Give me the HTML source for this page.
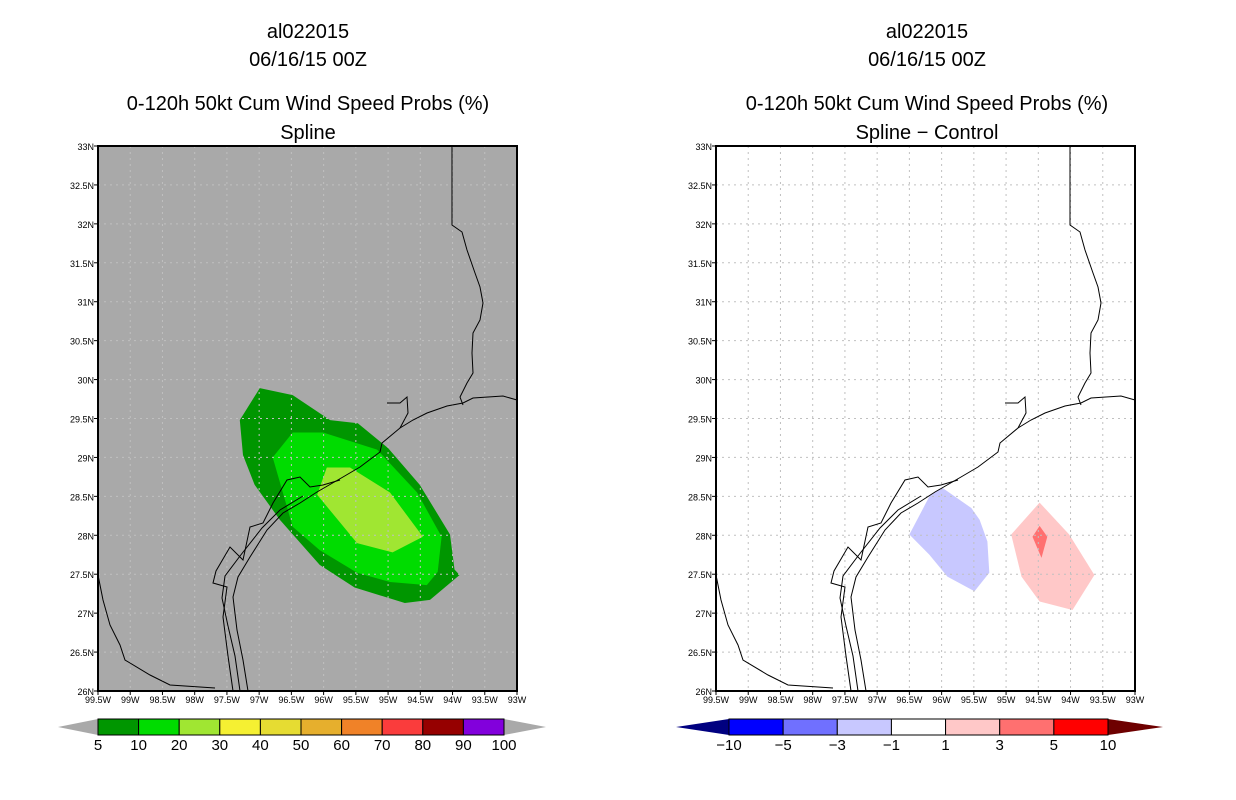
<!DOCTYPE html>
<html><head><meta charset="utf-8"><style>
html,body{margin:0;padding:0;background:#fff;}
svg{display:block;font-family:"Liberation Sans",sans-serif;}
</style></head><body>
<svg id="s" width="1236" height="800" viewBox="0 0 1236 800"></svg>
<script>
const latTicks=[33,32.5,32,31.5,31,30.5,30,29.5,29,28.5,28,27.5,27,26.5,26];
const latLabels=["33N","32.5N","32N","31.5N","31N","30.5N","30N","29.5N","29N","28.5N","28N","27.5N","27N","26.5N","26N"];
const lonTicks=[99.5,99,98.5,98,97.5,97,96.5,96,95.5,95,94.5,94,93.5,93];
const lonLabels=["99.5W","99W","98.5W","98W","97.5W","97W","96.5W","96W","95.5W","95W","94.5W","94W","93.5W","93W"];
// probability contours (lon W, lat N)
const prob5=[[96.99,29.89],[96.48,29.80],[95.90,29.48],[95.47,29.44],[95.00,29.12],[94.51,28.65],[94.04,28.01],[93.97,27.56],[93.89,27.49],[94.35,27.17],[94.74,27.13],[95.52,27.33],[96.06,27.62],[96.68,28.20],[97.07,28.65],[97.25,29.03],[97.30,29.48]];
const prob10=[[96.48,29.32],[96.01,29.32],[95.17,29.10],[94.55,28.55],[94.17,27.98],[94.23,27.53],[94.40,27.36],[94.97,27.40],[95.48,27.52],[96.06,27.81],[96.48,28.11],[96.79,29.00]];
const prob20=[[95.95,28.87],[95.59,28.87],[94.97,28.55],[94.46,27.98],[94.93,27.78],[95.48,27.90],[96.10,28.52]];
const diffNeg=[[95.99,28.61],[95.54,28.35],[95.41,28.20],[95.29,27.92],[95.26,27.52],[95.49,27.28],[95.91,27.47],[96.19,27.75],[96.50,28.01],[96.19,28.50]];
const diffPos1=[[94.48,28.42],[94.02,28.01],[93.63,27.49],[93.97,27.04],[94.48,27.15],[94.76,27.47],[94.92,28.01]];
const diffPos3=[[94.48,28.12],[94.36,27.98],[94.45,27.71],[94.59,27.98]];
const probLevels=["5","10","20","30","40","50","60","70","80","90","100"];
const probColors=["#009600","#00dc00","#a0e632","#f5f032","#e6dc32","#e6af2d","#f08228","#fa3c3c","#960000","#8200dc"];
const diffLevels=["-10","-5","-3","-1","1","3","5","10"];
const diffColors=["#0000ff","#7070ff","#c8c8ff","#ffffff","#ffc8c8","#ff7070","#ff0000"];
// coastline geometry in map-relative pixels (not data)
const coastMain=[[419,254],[405,250],[375,252],[365,257],[349,260],[329,267],[315,274],[302,282],[284,297],[282,306],[262,321],[245,331],[219,346],[202,357],[185,367],[169,384],[152,411],[140,431],[135,451],[139,484],[145,514],[150,545]];
const coastBarrier=[[142,545],[137,510],[130,480],[124,452],[127,430],[142,410],[164,382],[182,364],[205,350]];
const coastInner=[[135,545],[130,510],[125,471],[129,441],[115,437],[118,425],[132,401],[145,414],[152,381],[165,377],[175,357],[189,334],[202,331],[212,341],[225,339],[242,334]];
const bayTop=[[289,257],[302,257],[309,251],[310,267],[302,282]];
const mexCoast=[[0,429],[5,454],[12,479],[22,499],[27,514],[52,529],[72,539],[117,542]];
const sabine=[[354,0],[354,79],[364,86],[369,104],[377,127],[382,141],[385,157],[382,174],[375,187],[374,207],[375,227],[369,237],[362,251],[365,259]];

const NS="http://www.w3.org/2000/svg";
const svg=document.getElementById('s');
function mk(t,a,p){const e=document.createElementNS(NS,t);for(const k in a)e.setAttribute(k,a[k]);(p||svg).appendChild(e);return e;}
function panel(x0){
  const x1=x0+419,y0=146,y1=691;
  const X=l=>x0+(99.5-l)/6.5*(x1-x0);
  const Y=v=>y0+(33-v)/7*(y1-y0);
  return {x0,x1,y0,y1,X,Y};
}
function pts(arr,P){return arr.map(p=>P.X(p[0]).toFixed(1)+","+P.Y(p[1]).toFixed(1)).join(" ");}
function ppts(arr,P){return arr.map(p=>(P.x0+p[0])+","+(P.y0+p[1])).join(" ");}
function txt(x,y,s,size,anchor,name){const t=mk('text',{x,y,'font-size':size,'text-anchor':anchor||'middle',fill:'#000'});t.textContent=s;


return t;}
function drawMap(P,bg,fills,subtitle,cx,prefix){
  txt(cx,38,"al022015",20,'middle',prefix+'-title-storm');
  txt(cx,66,"06/16/15 00Z",20,'middle',prefix+'-title-date');
  txt(cx,110,"0-120h 50kt Cum Wind Speed Probs (%)",20,'middle',prefix+'-title-product');
  txt(cx,139,subtitle,20,'middle',prefix+'-subtitle');
  const r=mk('rect',{x:P.x0,y:P.y0,width:P.x1-P.x0,height:P.y1-P.y0,fill:bg});
  
  
  fills.forEach(f=>{const p=mk('polygon',{points:pts(f[0],P),fill:f[1]});
    
    });
  const grid=mk('g',{stroke:'#c0c0c0','stroke-width':1,'stroke-dasharray':'2,4'});
  
  
  lonTicks.slice(1,-1).forEach(l=>mk('line',{x1:P.X(l),x2:P.X(l),y1:P.y0,y2:P.y1},grid));
  latTicks.slice(1,-1).forEach(v=>mk('line',{x1:P.x0,x2:P.x1,y1:P.Y(v),y2:P.Y(v)},grid));
  const cg=mk('g',{stroke:'#000','stroke-width':1,fill:'none'});
  
  
  [coastMain,coastBarrier,coastInner,bayTop,mexCoast,sabine].forEach(c=>mk('polyline',{points:ppts(c,P)},cg));
  const fr=mk('rect',{x:P.x0,y:P.y0,width:P.x1-P.x0,height:P.y1-P.y0,fill:'none',stroke:'#000','stroke-width':2});
  
  
  latTicks.forEach((v,i)=>{mk('line',{x1:P.x0-4,x2:P.x0,y1:P.Y(v),y2:P.Y(v),stroke:'#000'});
    txt(P.x0-4,P.Y(v)+4,latLabels[i],9,'end',prefix+'-y-tick-label');});
  lonTicks.forEach((l,i)=>{mk('line',{x1:P.X(l),x2:P.X(l),y1:P.y1,y2:P.y1+4,stroke:'#000'});
    txt(P.X(l),P.y1+12,lonLabels[i],9,'middle',prefix+'-x-tick-label');});
}
function colorbar(x0,w,colors,labels,lt,rt,leftTri,rightTri,prefix){
  const n=colors.length,bw=w/n,y=719,h=16;
  const g=mk('g',{});
  
  
  mk('polygon',{points:`${x0},${y} ${x0},${y+h} ${x0-lt},${y+h/2}`,fill:leftTri},g);
  mk('polygon',{points:`${x0+w},${y} ${x0+w},${y+h} ${x0+w+rt},${y+h/2}`,fill:rightTri},g);
  colors.forEach((c,i)=>mk('rect',{x:x0+i*bw,y,width:bw,height:h,fill:c,stroke:'#000','stroke-width':1},g));
  labels.forEach((s,i)=>txt(x0+i*bw,y+h+15,s.replace('-','\u2212'),15,'middle',prefix+'-colorbar-label'));
}
const L=panel(98),R=panel(716);
drawMap(L,'#a9a9a9',[[prob5,probColors[0],'prob-5-10'],[prob10,probColors[1],'prob-10-20'],[prob20,probColors[2],'prob-20-30']],"Spline",308,'left');
drawMap(R,'#ffffff',[[diffNeg,diffColors[2],'diff-neg-1-3'],[diffPos1,diffColors[4],'diff-pos-1-3'],[diffPos3,diffColors[5],'diff-pos-3-5']],"Spline \u2212 Control",927,'right');
colorbar(98,406,probColors,probLevels,40,42,'#a9a9a9','#a9a9a9','prob');
colorbar(729,379,diffColors,diffLevels,53,55,'#000080','#6e0000','diff');
</script>
</body></html>
